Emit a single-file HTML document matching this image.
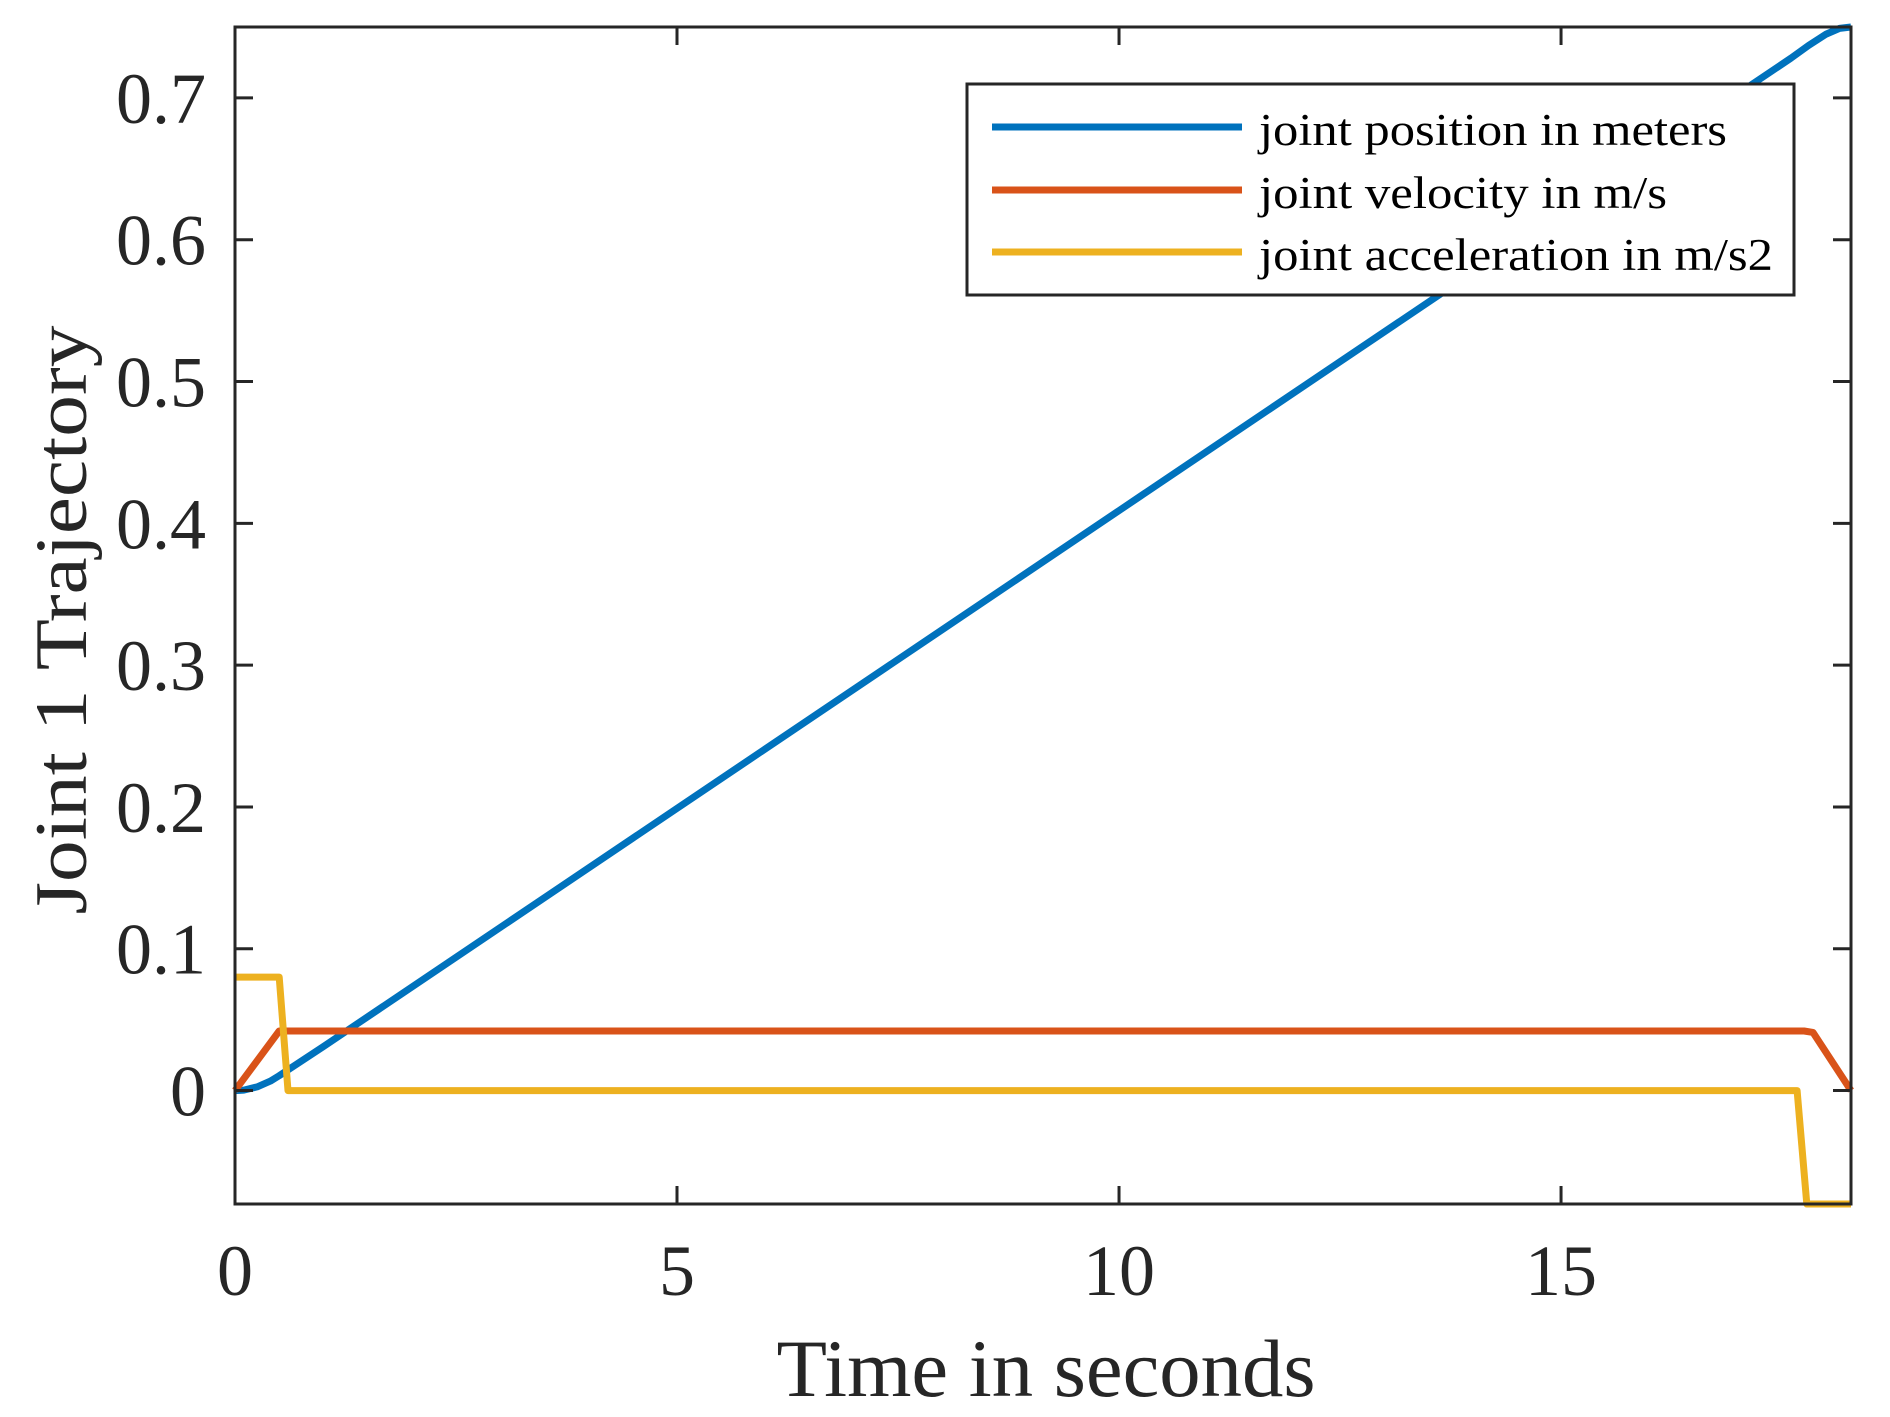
<!DOCTYPE html>
<html><head><meta charset="utf-8"><style>
html,body{margin:0;padding:0;background:#fff;}
svg{display:block;font-family:"Liberation Serif",serif;}
</style></head><body>
<svg id="chart" width="1890" height="1417" viewBox="0 0 1890 1417" xmlns="http://www.w3.org/2000/svg">
<rect width="1890" height="1417" fill="#fff"/>
<g id="series"></g>
<g id="axes"></g>
<g id="legend">
  <rect x="967" y="84" width="827" height="211" fill="#fff" stroke="#262626" stroke-width="3"/>
  <line x1="992" y1="127" x2="1242" y2="127" stroke="#0072BD" stroke-width="7"/>
  <text x="1259" y="145" font-size="45" textLength="468" lengthAdjust="spacingAndGlyphs" fill="#000">joint position in meters</text>
  <line x1="992" y1="190" x2="1242" y2="190" stroke="#D95319" stroke-width="7"/>
  <text x="1259" y="208" font-size="45" textLength="408" lengthAdjust="spacingAndGlyphs" fill="#000">joint velocity in m/s</text>
  <line x1="992" y1="252" x2="1242" y2="252" stroke="#EDB120" stroke-width="7"/>
  <text x="1259" y="270" font-size="45" textLength="514" lengthAdjust="spacingAndGlyphs" fill="#000">joint acceleration in m/s2</text>
</g>
<text x="1046" y="1396" font-size="82" text-anchor="middle" textLength="539" lengthAdjust="spacingAndGlyphs" fill="#262626">Time in seconds</text>
<text transform="translate(86,620) rotate(-90)" font-size="74" text-anchor="middle" textLength="589" lengthAdjust="spacingAndGlyphs" fill="#262626">Joint 1 Trajectory</text>
</svg>
<script>
const posT = [0, 0.1, 0.25, 0.4, 0.5, 1, 5, 10, 15, 17.6, 17.8, 18.0, 18.15, 18.28];
const posV = [0, 0.0003, 0.0026, 0.0067, 0.0105, 0.031, 0.199, 0.409, 0.619, 0.728, 0.737, 0.745, 0.749, 0.75];
const velT = [0, 0.5, 17.75, 17.85, 18.28];
const velV = [0, 0.042, 0.042, 0.041, 0];
const accT = [0, 0.5, 0.6, 17.67, 17.78, 18.28];
const accV = [0.08, 0.08, 0, 0, -0.08, -0.08];
const xTicks = [0, 5, 10, 15];
const xTickLabels = ["0", "5", "10", "15"];
const yTicks = [0, 0.1, 0.2, 0.3, 0.4, 0.5, 0.6, 0.7];
const yTickLabels = ["0", "0.1", "0.2", "0.3", "0.4", "0.5", "0.6", "0.7"];

const L=235,R=1851,T=27,B=1204, XMIN=0,XMAX=18.28,YMIN=-0.08,YMAX=0.75;
const NS="http://www.w3.org/2000/svg";
function xs(v){return L+(v-XMIN)/(XMAX-XMIN)*(R-L);}
function ys(v){return B-(v-YMIN)/(YMAX-YMIN)*(B-T);}
function mk(tag,attrs,parent){const e=document.createElementNS(NS,tag);for(const k in attrs)e.setAttribute(k,attrs[k]);parent.appendChild(e);return e;}
const series=document.getElementById('series');
const axes=document.getElementById('axes');
function drawLine(ts,vs,color,name){
  const d=ts.map((t,i)=>(i?'L':'M')+xs(t).toFixed(1)+','+ys(vs[i]).toFixed(1)).join(' ');
  const p=mk('path',{d:d,fill:'none',stroke:color,'stroke-width':7,'stroke-linejoin':'round'},series);
  
  
}
drawLine(posT,posV,'#0072BD','position-line');
drawLine(velT,velV,'#D95319','velocity-line');
drawLine(accT,accV,'#EDB120','acceleration-line');

const box=mk('rect',{x:L,y:T,width:R-L,height:B-T,fill:'none',stroke:'#262626','stroke-width':3},axes);


xTicks.forEach((v,i)=>{
  const x=xs(v);
  mk('line',{x1:x,y1:B,x2:x,y2:B-18,stroke:'#262626','stroke-width':3},axes);
  mk('line',{x1:x,y1:T,x2:x,y2:T+18,stroke:'#262626','stroke-width':3},axes);
  const t=mk('text',{x:x,y:1295,'font-size':72,'text-anchor':'middle',fill:'#262626'},axes);
  t.textContent=xTickLabels[i];
  
  
});
yTicks.forEach((v,i)=>{
  const y=ys(v);
  mk('line',{x1:L,y1:y,x2:L+18,y2:y,stroke:'#262626','stroke-width':3},axes);
  mk('line',{x1:R,y1:y,x2:R-18,y2:y,stroke:'#262626','stroke-width':3},axes);
  const t=mk('text',{x:206,y:y+25,'font-size':72,'text-anchor':'end',fill:'#262626'},axes);
  t.textContent=yTickLabels[i];
  
  
});
</script>
</body></html>
